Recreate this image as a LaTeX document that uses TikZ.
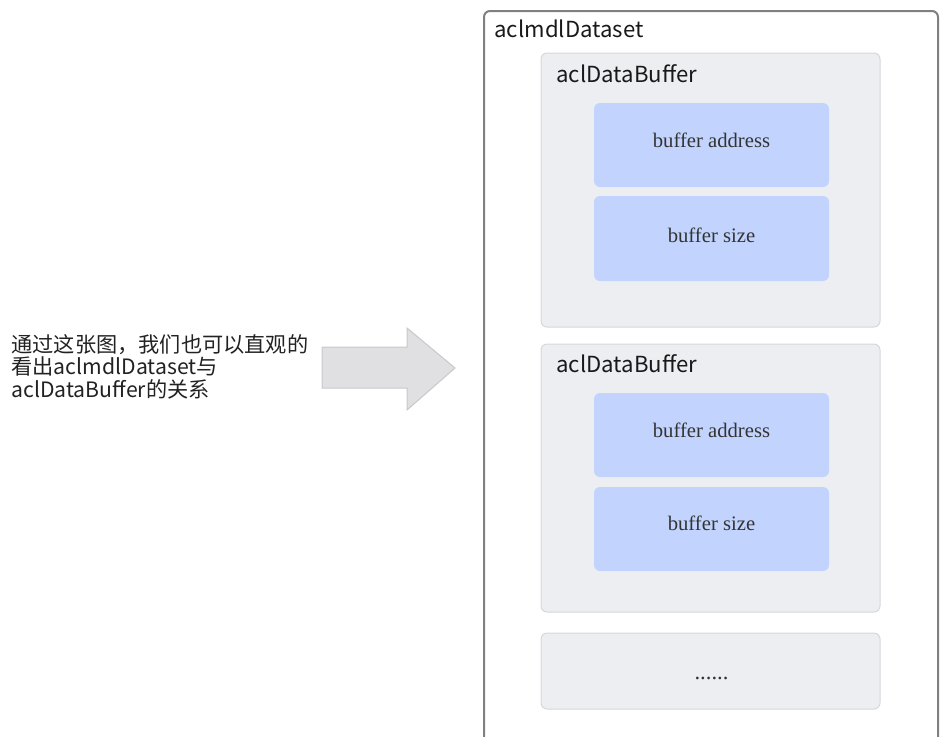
\documentclass[tikz,border=0pt]{standalone}
\usepackage{fontspec}
\setmainfont{Liberation Serif}
\newfontfamily\cjk{Noto Sans CJK SC}

\tikzset{every picture/.style={line width=0.75pt}}

\begin{document}
\begin{tikzpicture}[x=0.75pt,y=0.75pt,yscale=-1,xscale=1]
        \path[use as bounding box] (0,0) rectangle (941,736); %set diagram at 941 x 736

        %Shape: Rectangle [id:outerDataset] 
        \draw  [color={rgb, 255:red, 128; green, 128; blue, 128 }  ,draw opacity=1 ][line width=1.5] [rounded corners=4.5] (484,745) -- (484,11) -- (938,11) -- (938,745) ;
        %Shape: Rectangle [id:bufferOne] 
        \draw  [color={rgb, 255:red, 214; green, 215; blue, 219 }  ,draw opacity=1 ][fill={rgb, 255:red, 237; green, 238; blue, 242 }  ,fill opacity=1 ][rounded corners=4.5] (541,53) rectangle (880,327) ;
        %Shape: Rectangle [id:bufferTwo] 
        \draw  [color={rgb, 255:red, 214; green, 215; blue, 219 }  ,draw opacity=1 ][fill={rgb, 255:red, 237; green, 238; blue, 242 }  ,fill opacity=1 ][rounded corners=4.5] (541,344) rectangle (880,612) ;
        %Shape: Rectangle [id:bufferMore] 
        \draw  [color={rgb, 255:red, 214; green, 215; blue, 219 }  ,draw opacity=1 ][fill={rgb, 255:red, 237; green, 238; blue, 242 }  ,fill opacity=1 ][rounded corners=4.5] (541,633) rectangle (880,709) ;
        %Shape: Rectangle [id:addrOne] 
        \draw  [draw opacity=0][fill={rgb, 255:red, 194; green, 212; blue, 253 }  ,fill opacity=1 ][rounded corners=4.5] (594,103) rectangle (829,187) ;
        %Shape: Rectangle [id:sizeOne] 
        \draw  [draw opacity=0][fill={rgb, 255:red, 194; green, 212; blue, 253 }  ,fill opacity=1 ][rounded corners=4.5] (594,196) rectangle (829,281) ;
        %Shape: Rectangle [id:addrTwo] 
        \draw  [draw opacity=0][fill={rgb, 255:red, 194; green, 212; blue, 253 }  ,fill opacity=1 ][rounded corners=4.5] (594,393) rectangle (829,477) ;
        %Shape: Rectangle [id:sizeTwo] 
        \draw  [draw opacity=0][fill={rgb, 255:red, 194; green, 212; blue, 253 }  ,fill opacity=1 ][rounded corners=4.5] (594,487) rectangle (829,571) ;
        %Shape: Right Arrow [id:bigArrow] 
        \draw  [color={rgb, 255:red, 200; green, 200; blue, 204 }  ,draw opacity=1 ][fill={rgb, 255:red, 224; green, 224; blue, 227 }  ,fill opacity=1 ] (322,347) -- (407,347) -- (407,328) -- (455,368) -- (407,410) -- (407,388) -- (322,388) -- cycle ;

        % Text Node
        \draw (10,333) node [anchor=north west][inner sep=0.75pt]  [color={rgb, 255:red, 34; green, 34; blue, 34 }] [align=left] [font={\cjk\fontsize{15.9}{16.8}\selectfont}] (note) {通过这张图，我们也可以直观的\\看出aclmdlDataset与\\aclDataBuffer的关系};
        % Text Node
        \draw (493,37) node [anchor=base west][inner sep=0.75pt]  [color={rgb, 255:red, 25; green, 25; blue, 25 }] [font={\cjk\fontsize{16.6}{18}\selectfont}] (datasetLabel) {aclmdlDataset};
        % Text Node
        \draw (555,82) node [anchor=base west][inner sep=0.75pt]  [color={rgb, 255:red, 25; green, 25; blue, 25 }] [font={\cjk\fontsize{16.6}{18}\selectfont}] (bufferOneLabel) {aclDataBuffer};
        % Text Node
        \draw (555,372) node [anchor=base west][inner sep=0.75pt]  [color={rgb, 255:red, 25; green, 25; blue, 25 }] [font={\cjk\fontsize{16.6}{18}\selectfont}] (bufferTwoLabel) {aclDataBuffer};
        % Text Node
        \draw (711.5,147) node [anchor=base][inner sep=0.75pt]  [color={rgb, 255:red, 51; green, 51; blue, 51 }] [font={\fontsize{15.5}{18}\selectfont}] (addrOneText) {buffer address};
        % Text Node
        \draw (711.5,242) node [anchor=base][inner sep=0.75pt]  [color={rgb, 255:red, 51; green, 51; blue, 51 }] [font={\fontsize{15.5}{18}\selectfont}] (sizeOneText) {buffer size};
        % Text Node
        \draw (711.5,437) node [anchor=base][inner sep=0.75pt]  [color={rgb, 255:red, 51; green, 51; blue, 51 }] [font={\fontsize{15.5}{18}\selectfont}] (addrTwoText) {buffer address};
        % Text Node
        \draw (711.5,530) node [anchor=base][inner sep=0.75pt]  [color={rgb, 255:red, 51; green, 51; blue, 51 }] [font={\fontsize{15.5}{18}\selectfont}] (sizeTwoText) {buffer size};
        % Text Node
        \draw (711.5,679) node [anchor=base][inner sep=0.75pt]  [color={rgb, 255:red, 51; green, 51; blue, 51 }] [font={\fontsize{17}{18}\selectfont}] (moreText) {......};

    \end{tikzpicture}
\end{document}
